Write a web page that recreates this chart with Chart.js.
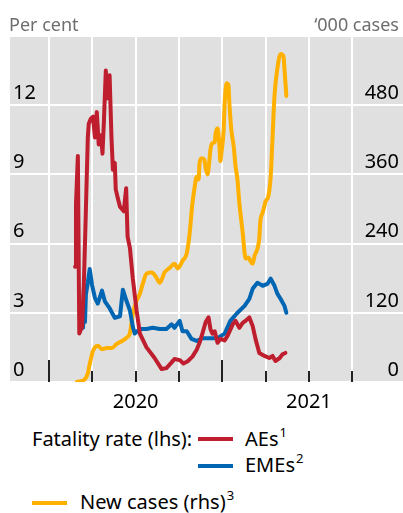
<!DOCTYPE html>
<html>
<head>
<meta charset="utf-8">
<script src="https://cdn.jsdelivr.net/npm/chart.js@4.4.0/dist/chart.umd.min.js"></script>
<style>
    body { margin: 0; background: #fff; font-family: 'Noto Sans', sans-serif; }
    #wrap { position: relative; width: 403px; height: 513px; overflow: hidden; }
    #fatality-chart { position: absolute; left: 0; top: 0; }
    .txt { position: absolute; font-size: 20px; line-height: 24px; color: #000; white-space: nowrap; }
    .unit { color: #6e6e6e; top: 12px; font-size: 18px; }
    .swatch { position: absolute; width: 35px; height: 4px; }
    .sup { font-size: 13px; position: relative; top: -9px; margin-left: 1px; }
</style>
</head>
<body>
<div id="wrap">
    <canvas id="fatality-chart" width="403" height="422"></canvas>
    <div class="txt unit" style="left:9px;">Per cent</div>
    <div class="txt unit" style="right:4px;">&#8216;000 cases</div>

    <div class="txt" style="left:32px; top:427px;">Fatality rate (lhs):</div>
    <div class="swatch" style="left:198px; top:437px; background:#be1e2d;"></div>
    <div class="txt" style="left:245px; top:427px;">AEs<span class="sup">1</span></div>
    <div class="swatch" style="left:198px; top:464px; background:#0066b3;"></div>
    <div class="txt" style="left:245px; top:453px;">EMEs<span class="sup">2</span></div>
    <div class="swatch" style="left:32px; top:501px; background:#ffb000;"></div>
    <div class="txt" style="left:80px; top:490px;">New cases (rhs)<span class="sup">3</span></div>
</div>
<script>
// --- DATA ---
const aesDates = ['2020-02-25','2020-02-27','2020-03-02','2020-03-05','2020-03-11','2020-03-15','2020-03-19','2020-03-23',
    '2020-03-25','2020-03-29','2020-04-03','2020-04-07','2020-04-11','2020-04-15','2020-04-20','2020-04-23','2020-04-26',
    '2020-04-30','2020-05-04','2020-05-08','2020-05-12','2020-05-15','2020-05-19','2020-05-21','2020-05-25','2020-05-30',
    '2020-06-07','2020-06-12','2020-06-15','2020-06-20','2020-06-26','2020-07-04','2020-07-11','2020-07-25','2020-08-11',
    '2020-08-26','2020-09-05','2020-09-16','2020-09-22','2020-10-03','2020-10-11','2020-10-20','2020-10-30','2020-11-08',
    '2020-11-14','2020-11-20','2020-11-27','2020-12-03','2020-12-07','2020-12-11','2020-12-16','2020-12-22','2020-12-28',
    '2021-01-06','2021-01-12','2021-01-23','2021-01-29','2021-02-06','2021-02-13','2021-02-19','2021-02-27','2021-03-06',
    '2021-03-12','2021-03-20','2021-03-31','2021-04-10','2021-04-17','2021-04-23','2021-05-02','2021-05-08','2021-05-14'];
const aesRate = [5.0,7.7,9.8,2.1,2.4,4.5,7.5,10.6,
    11.2,11.4,11.5,10.6,11.7,10.3,10.7,9.9,11.3,
    13.5,12.3,13.3,10.6,9.2,9.5,8.35,8.0,7.6,
    7.4,8.4,6.3,5.8,4.5,3.1,2.1,1.5,1.04,
    0.56,0.6,0.85,1.0,0.95,0.8,0.9,1.1,1.4,
    1.7,2.1,2.6,2.8,2.3,2.1,2.2,1.7,1.87,
    1.8,2.0,2.5,2.65,2.35,2.56,2.65,2.8,2.43,
    1.87,1.26,1.13,1.04,1.13,0.91,1.04,1.2,1.26];

const emeDates = ['2020-03-13','2020-03-15','2020-03-17','2020-03-19','2020-03-23','2020-03-27','2020-04-01','2020-04-07',
    '2020-04-13','2020-04-22','2020-04-28','2020-05-08','2020-05-19','2020-05-30','2020-06-05','2020-06-13','2020-06-20',
    '2020-06-26','2020-06-30','2020-07-11','2020-07-25','2020-08-07','2020-08-22','2020-09-05','2020-09-16','2020-09-22',
    '2020-10-03','2020-10-09','2020-10-18','2020-10-28','2020-11-08','2020-11-20','2020-12-05','2020-12-22','2021-01-06',
    '2021-01-18','2021-02-02','2021-02-17','2021-02-27','2021-03-06','2021-03-16','2021-03-27','2021-04-06','2021-04-13',
    '2021-04-21','2021-04-27','2021-05-04','2021-05-12','2021-05-16'];
const emeRate = [2.35,4.2,2.6,3.8,4.3,4.9,4.2,3.65,
    3.4,3.96,3.5,3.2,2.78,2.85,4.0,3.5,3.1,
    2.4,2.1,2.3,2.3,2.35,2.3,2.3,2.5,2.35,
    2.65,2.2,2.2,1.87,1.78,1.9,1.9,1.9,2.1,
    2.65,3.0,3.3,3.6,4.04,4.3,4.17,4.25,4.48,
    4.17,3.83,3.6,3.3,3.0];

const caseDates = ['2020-02-29','2020-03-17','2020-03-23','2020-03-27','2020-04-03','2020-04-13','2020-04-22','2020-05-02',
    '2020-05-13','2020-05-23','2020-06-03','2020-06-13','2020-06-20','2020-06-26','2020-07-04','2020-07-11','2020-07-17',
    '2020-07-25','2020-08-05','2020-08-15','2020-08-22','2020-09-01','2020-09-12','2020-09-22','2020-09-29','2020-10-09',
    '2020-10-18','2020-10-24','2020-10-30','2020-11-03','2020-11-08','2020-11-12','2020-11-14','2020-11-18','2020-11-24',
    '2020-11-27','2020-12-01','2020-12-05','2020-12-07','2020-12-11','2020-12-16','2020-12-18','2020-12-22','2020-12-26',
    '2020-12-28','2020-12-30','2021-01-04','2021-01-06','2021-01-10','2021-01-14','2021-01-16','2021-01-20','2021-01-25',
    '2021-01-29','2021-02-02','2021-02-06','2021-02-13','2021-02-17','2021-02-19','2021-02-25','2021-03-01','2021-03-06',
    '2021-03-10','2021-03-16','2021-03-20','2021-03-22','2021-03-27','2021-03-31','2021-04-02','2021-04-08','2021-04-13',
    '2021-04-17','2021-04-21','2021-04-27','2021-05-04','2021-05-10','2021-05-12','2021-05-16'];
const newCases = [0,5,15,31,54,63,57,59,
    59,66,71,77,85,118,141,153,170,
    188,190,181,172,190,198,205,197,210,
    223,257,310,334,356,351,379,388,386,
    370,360,386,403,414,416,431,440,409,
    383,396,438,483,518,515,483,438,409,
    374,351,310,259,224,214,216,210,205,
    219,231,249,277,294,306,313,322,356,
    426,496,543,569,565,543,496];

const tickQuarters = [2020, 2020.25, 2020.5, 2020.75, 2021, 2021.25, 2021.5, 2021.75];
const yearLabels = [2020, 2021];

// --- HELPERS ---
function decimalYear(s) {
    const [y, m, d] = s.split('-').map(Number);
    const start = Date.UTC(y, 0, 1), end = Date.UTC(y + 1, 0, 1);
    return y + (Date.UTC(y, m - 1, d) - start) / (end - start);
}
const toPoints = (dates, values) => dates.map((d, i) => ({ x: decimalYear(d), y: values[i] }));

// --- PLUGINS ---
const plotBackground = {
    id: 'plotBackground',
    beforeDraw(chart) {
        const { ctx, chartArea: a } = chart;
        ctx.save();
        ctx.fillStyle = '#e0e0e0';
        ctx.fillRect(a.left, a.top, a.right - a.left, a.bottom - a.top);
        ctx.restore();
    }
};

const quarterTicks = {
    id: 'quarterTicks',
    beforeDatasetsDraw(chart) {
        const { ctx, chartArea: a, scales: { x } } = chart;
        ctx.save();
        ctx.strokeStyle = '#222';
        ctx.lineWidth = 2;
        tickQuarters.forEach(v => {
            const px = Math.round(x.getPixelForValue(v));
            const len = Number.isInteger(v) ? 22 : 11;
            ctx.beginPath();
            ctx.moveTo(px, a.bottom);
            ctx.lineTo(px, a.bottom - len);
            ctx.stroke();
        });
        ctx.restore();
    }
};

// --- CHART ---
const ctx = document.getElementById('fatality-chart').getContext('2d');
const tickFont = { family: "'Noto Sans', sans-serif", size: 20 };

new Chart(ctx, {
    type: 'line',
    data: {
        datasets: [
            { label: 'AEs', data: toPoints(aesDates, aesRate), borderColor: '#be1e2d', yAxisID: 'y' },
            { label: 'EMEs', data: toPoints(emeDates, emeRate), borderColor: '#0066b3', yAxisID: 'y' },
            { label: 'New cases', data: toPoints(caseDates, newCases), borderColor: '#ffb000', yAxisID: 'y1',
              cubicInterpolationMode: 'monotone' }
        ]
    },
    options: {
        responsive: false,
        animation: false,
        layout: { padding: { left: 10, right: 0, top: 36, bottom: 0 } },
        elements: {
            point: { radius: 0 },
            line: { borderWidth: 4, borderJoinStyle: 'round', borderCapStyle: 'round', fill: false }
        },
        plugins: { legend: { display: false }, tooltip: { enabled: false } },
        scales: {
            x: {
                type: 'linear',
                min: 2019.775,
                max: 2022.043,
                afterBuildTicks: s => { s.ticks = tickQuarters.map(v => ({ value: v })); },
                grid: { color: '#fff', lineWidth: 2, drawTicks: false },
                border: { display: false },
                ticks: {
                    autoSkip: false, maxRotation: 0, padding: 8, color: '#000', font: tickFont,
                    callback: v => {
                        const yr = yearLabels.find(y => Math.abs(v - (y + 0.5)) < 0.01);
                        return yr ? String(yr) : '';
                    }
                }
            },
            y: {
                position: 'left',
                min: 0, max: 15,
                afterFit: s => { s.width = 0; },
                grid: { color: '#fff', lineWidth: 2, drawTicks: false },
                border: { display: false },
                ticks: {
                    stepSize: 3, mirror: true, padding: 3, labelOffset: -12, color: '#000', font: tickFont,
                    callback: v => v === 15 ? '' : v
                }
            },
            y1: {
                position: 'right',
                min: 0, max: 600,
                afterFit: s => { s.width = 0; },
                grid: { display: false },
                border: { display: false },
                ticks: {
                    // mirrored right labels sit at left + padding, so pull them back inside
                    stepSize: 120, mirror: true, padding: -4, labelOffset: -12, color: '#000', font: tickFont,
                    callback: v => v === 600 ? '' : v
                }
            }
        }
    },
    plugins: [plotBackground, quarterTicks]
});
</script>
</body>
</html>
